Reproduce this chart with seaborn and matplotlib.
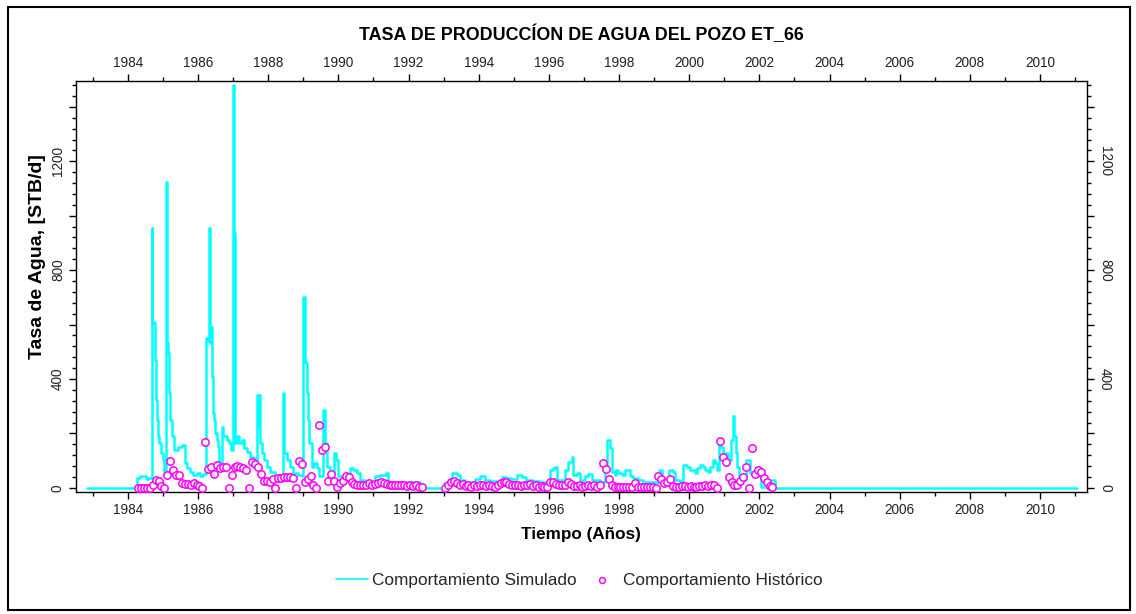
import numpy as np
import pandas as pd
import matplotlib
matplotlib.use("Agg")
import matplotlib.pyplot as plt
import seaborn as sns
from matplotlib import font_manager
from matplotlib.ticker import MultipleLocator, FuncFormatter
from matplotlib.patches import Rectangle

# Simulated water rate (STB/d), step series: value holds until next date
sim_year = [1982.83, 1984.27, 1984.34, 1984.51, 1984.58, 1984.675, 1984.694, 1984.741, 1984.770,
            1984.798, 1984.817, 1984.846, 1984.884, 1984.931, 1984.988, 1985.036, 1985.083, 1985.112,
            1985.150, 1985.178, 1985.207, 1985.245, 1985.321, 1985.435, 1985.530, 1985.616, 1985.672,
            1985.767, 1985.862, 1985.958, 1986.052, 1986.148, 1986.224, 1986.252, 1986.300, 1986.328,
            1986.357, 1986.385, 1986.414, 1986.452, 1986.490, 1986.528, 1986.575, 1986.604, 1986.670,
            1986.718, 1986.813, 1986.889, 1986.946, 1986.993, 1987.022, 1987.050, 1987.098, 1987.164,
            1987.240, 1987.316, 1987.401, 1987.478, 1987.554, 1987.620, 1987.668, 1987.706, 1987.734,
            1987.763, 1987.810, 1987.877, 1987.953, 1988.048, 1988.190, 1988.333, 1988.428, 1988.457,
            1988.523, 1988.618, 1988.713, 1988.856, 1988.951, 1988.998, 1989.036, 1989.074, 1989.103,
            1989.131, 1989.169, 1989.236, 1989.302, 1989.378, 1989.454, 1989.568, 1989.616, 1989.663,
            1989.758, 1989.872, 1989.929, 1989.996, 1990.091, 1990.234, 1990.329, 1990.424, 1990.519,
            1990.614, 1990.75, 1990.90, 1991.04, 1991.18, 1991.37, 1991.42, 1992.27, 1992.32, 1992.44,
            1993.01, 1993.23, 1993.37, 1993.46, 1993.60, 1993.89, 1994.03, 1994.17, 1994.31, 1994.51,
            1994.65, 1994.79, 1994.93, 1995.08, 1995.22, 1995.36, 1995.55, 1995.74, 1995.93, 1996.03,
            1996.11, 1996.17, 1996.24, 1996.46, 1996.55, 1996.65, 1996.69, 1996.79, 1996.90, 1997.03,
            1997.12, 1997.22, 1997.45, 1997.60, 1997.66, 1997.74, 1997.79, 1997.88, 1997.91, 1997.97,
            1998.07, 1998.16, 1998.31, 1998.40, 1998.55, 1998.69, 1999.15, 1999.21, 1999.31, 1999.43,
            1999.55, 1999.60, 1999.74, 1999.81, 1999.93, 2000.02, 2000.16, 2000.21, 2000.31, 2000.40,
            2000.45, 2000.54, 2000.59, 2000.68, 2000.73, 2000.80, 2000.86, 2000.92, 2000.97, 2001.02,
            2001.11, 2001.18, 2001.24, 2001.28, 2001.32, 2001.37, 2001.43, 2001.49, 2001.56, 2001.63,
            2001.73, 2001.82, 2001.90, 2001.97, 2002.06, 2002.30, 2002.44, 2011.05]
sim_rate = [0, 36, 42, 32, 36, 954, 611, 605, 470,
            323, 250, 189, 164, 127, 103, 60, 1125, 531,
            495, 348, 250, 189, 140, 152, 158, 91, 72,
            60, 48, 54, 44, 51, 550, 538, 954, 531,
            593, 409, 274, 250, 201, 176, 152, 91, 225,
            189, 176, 164, 140, 1480, 936, 164, 189, 164,
            176, 146, 133, 115, 109, 103, 342, 225, 342,
            164, 127, 103, 78, 60, 48, 42, 348, 127,
            103, 78, 54, 48, 42, 700, 464, 458, 348,
            250, 164, 78, 91, 72, 42, 287, 164, 78,
            54, 127, 103, 42, 29, 35, 72, 66, 54,
            29, 20, 23, 42, 48, 56, 23, 20, 11, 0,
            17, 56, 48, 29, 23, 32, 44, 29, 27, 23,
            39, 35, 32, 48, 39, 29, 26, 20, 23, 66,
            72, 78, 29, 66, 97, 115, 48, 54, 29, 44,
            50, 29, 23, 66, 176, 146, 60, 48, 66, 54,
            48, 66, 42, 36, 29, 23, 64, 29, 23, 66,
            60, 29, 23, 84, 78, 66, 54, 72, 84, 78,
            66, 60, 78, 103, 91, 66, 164, 152, 103, 127,
            103, 176, 265, 189, 127, 78, 42, 48, 29, 103,
            54, 42, 78, 42, 2, 29, 0, 0]

# Historical monthly water rate (STB/d), two reporting periods
hist_start_a = 1984.29
hist_rate_a = [0, 0, 0, 0, 0, 10, 30, 25, 8, 0,
               48, 99, 66, 48, 48, 17, 15, 15, 11, 17,
               11, 7, 0, 170, 69, 76, 50, 85, 72, 78,
               78, 0, 49, 76, 81, 76, 72, 64, 0, 97,
               88, 76, 51, 27, 27, 20, 32, 0, 36, 36,
               39, 39, 39, 36, 0, 99, 88, 20, 32, 44,
               11, 0, 231, 140, 150, 27, 51, 27, 5, 17,
               27, 42, 39, 23, 15, 12, 12, 9, 9, 18,
               12, 15, 17, 20, 17, 15, 10, 12, 12, 10,
               12, 10, 8, 12, 8, 10, 5, 2]
hist_start_b = 1993.04
hist_rate_b = [0, 12, 23, 27, 17, 10, 15, 8, 10, 5,
               10, 8, 12, 10, 7, 12, 8, 5, 10, 18,
               22, 20, 15, 10, 12, 10, 8, 12, 10, 15,
               8, 10, 5, 8, 5, 3, 20, 22, 15, 12,
               10, 12, 20, 15, 8, 7, 10, 5, 8, 12,
               8, 10, 5, 10, 93, 69, 33, 12, 5, 2,
               3, 5, 3, 5, 3, 18, 5, 3, 3, 3,
               3, 3, 0, 44, 32, 17, 23, 32, 7, 5,
               5, 7, 7, 5, 7, 5, 5, 7, 7, 10,
               7, 10, 11, 0, 174, 113, 96, 39, 20, 11,
               12, 25, 40, 76, 0, 148, 50, 64, 60, 35,
               23, 8, 2]

title = "TASA DE PRODUCCÍON DE AGUA DEL POZO ET_66"
x_label = "Tiempo (Años)"
y_label = "Tasa de Agua, [STB/d]"
sim_name = "Comportamiento Simulado"
hist_name = "Comportamiento Histórico"

sim_df = pd.DataFrame({"year": sim_year, "rate": sim_rate})
hist_df = pd.DataFrame({
    "year": np.concatenate([hist_start_a + np.arange(len(hist_rate_a)) / 12.0,
                            hist_start_b + np.arange(len(hist_rate_b)) / 12.0]),
    "rate": hist_rate_a + hist_rate_b,
})

sns.set_theme(style="white")
names = {f.name for f in font_manager.fontManager.ttflist}
narrow = "Liberation Sans Narrow" in names
base = "Liberation Sans Narrow" if narrow else "Liberation Sans"
plt.rcParams["font.family"] = [base, "Liberation Sans", "DejaVu Sans"]
plt.rcParams["axes.linewidth"] = 1.0
scale = 1.0 if narrow else 0.82

fig = plt.figure(figsize=(11.36, 6.14), dpi=100)
ax = fig.add_axes([0.0669, 0.1987, 0.8900, 0.6694])

sns.lineplot(data=sim_df, x="year", y="rate", ax=ax, color="#00FFFF", lw=1.8,
             drawstyle="steps-post", estimator=None, sort=False, label=sim_name)
sns.scatterplot(data=hist_df, x="year", y="rate", ax=ax, s=28, marker="o",
                facecolor="white", edgecolor="#FF00FF", linewidth=1.1, zorder=3,
                label=hist_name)

ax.set_xlim(1982.52, 2011.34)
ax.set_ylim(-15, 1495)
ax.set_xlabel("")
ax.set_ylabel("")

for s in ax.spines.values():
    s.set_color("black")
    s.set_linewidth(1.0)

ax.xaxis.set_major_locator(MultipleLocator(2))
ax.xaxis.set_minor_locator(MultipleLocator(1))
ax.xaxis.set_major_formatter(FuncFormatter(lambda v, p: f"{v:.0f}"))
ax.yaxis.set_major_locator(MultipleLocator(200))
ax.yaxis.set_minor_locator(MultipleLocator(40))
ax.yaxis.set_major_formatter(FuncFormatter(lambda v, p: f"{v:.0f}" if round(v) % 400 == 0 else ""))

tick_fs = 12 * scale
ax.tick_params(which="both", direction="out", color="black", width=1.0,
               top=True, bottom=True, left=True, right=True,
               labeltop=True, labelbottom=True, labelleft=True, labelright=True,
               labelsize=tick_fs, labelcolor="#222222")
ax.tick_params(which="major", length=5, pad=3)
ax.tick_params(which="minor", length=3)
for t in ax.yaxis.get_major_ticks():
    t.label1.set_rotation(90)
    t.label1.set_verticalalignment("center")
    t.label2.set_rotation(270)
    t.label2.set_verticalalignment("center")

fig.text(581 / 1136, 1 - 35 / 614, title, ha="center", va="center",
         fontsize=15.7 * scale, fontweight="bold", color="black")
fig.text(581 / 1136, 1 - 534 / 614, x_label, ha="center", va="center",
         fontsize=15 * scale, fontweight="bold", color="black")
fig.text(38 / 1136, 1 - 257 / 614, y_label, ha="center", va="center", rotation=90,
         fontsize=14, fontweight="bold", color="black", family=["Liberation Sans", "DejaVu Sans"])

handles, labels = ax.get_legend_handles_labels()
leg = ax.legend(handles, labels, loc="center", bbox_to_anchor=(579 / 1136, 1 - 580 / 614),
                bbox_transform=fig.transFigure, ncol=2, frameon=False, fontsize=15.2 * scale,
                handlelength=1.85, columnspacing=0.55, handletextpad=0.25, markerscale=0.8)
for ln in leg.get_lines():
    ln.set_linewidth(1.2)

fig.add_artist(Rectangle((8 / 1136, 1 - 610 / 614), 1122 / 1136, 603 / 614,
                         transform=fig.transFigure, fill=False, lw=1.5, ec="black"))

fig.savefig("out.png", dpi=100, facecolor="white")
